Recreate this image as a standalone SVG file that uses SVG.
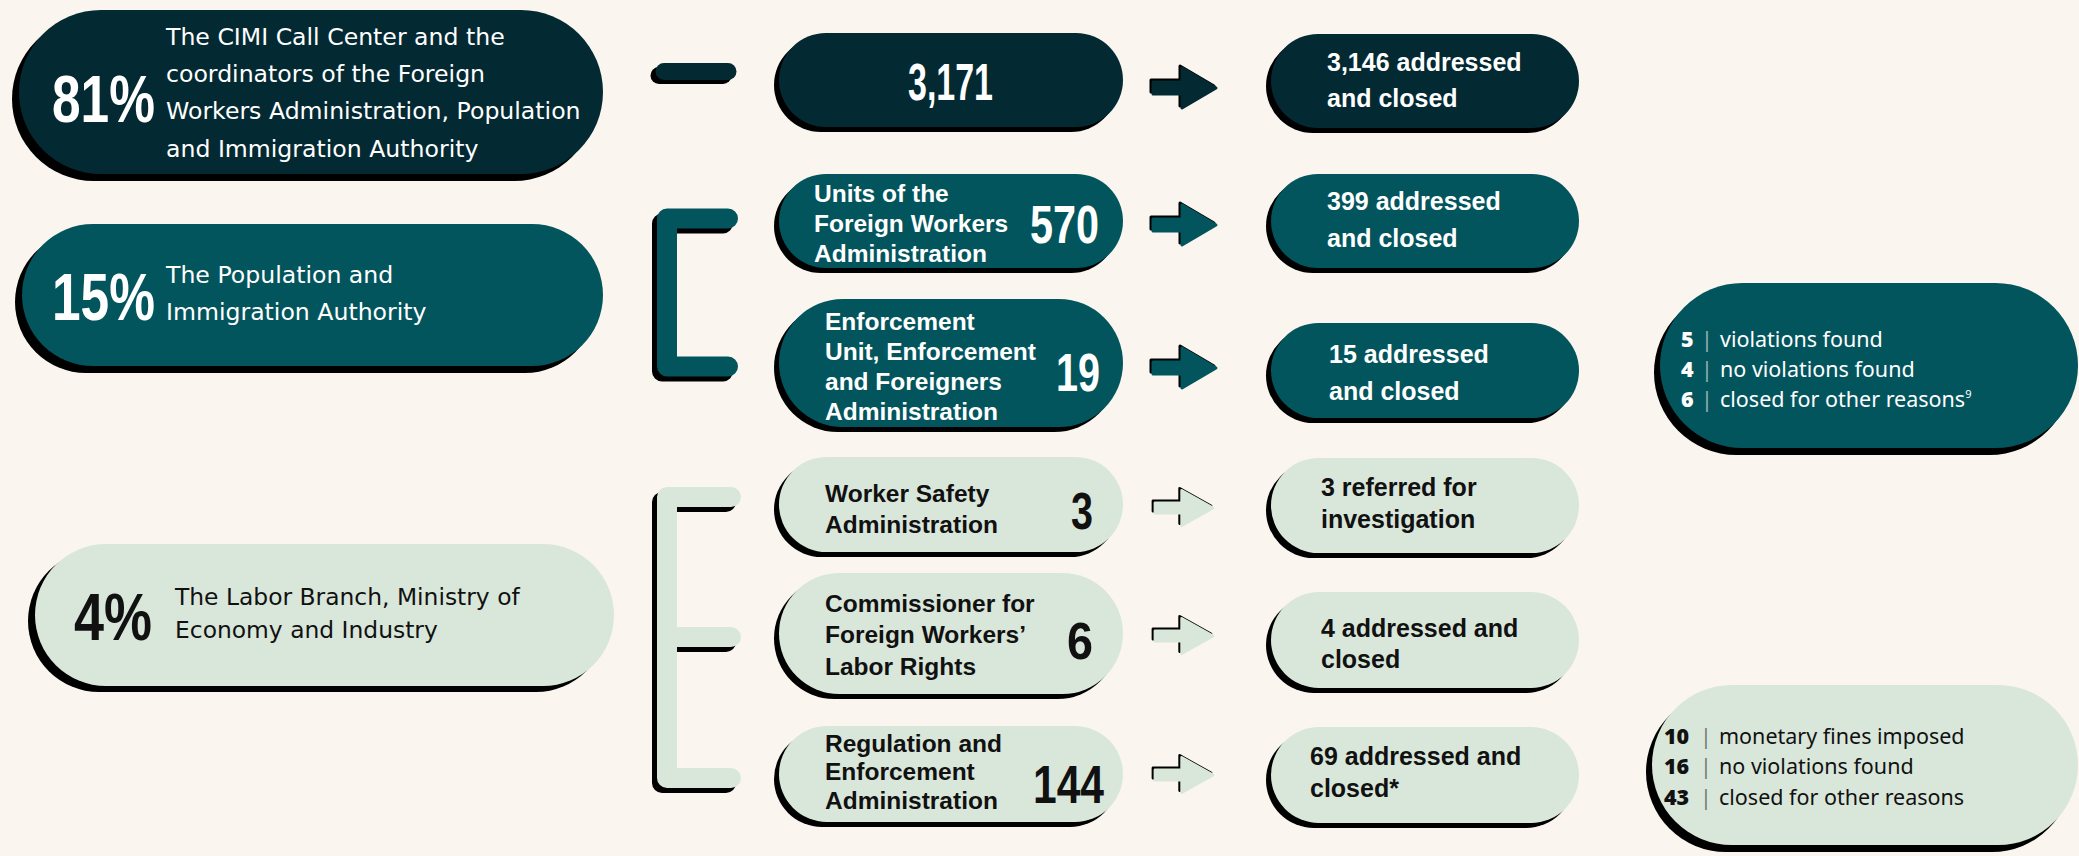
<svg xmlns="http://www.w3.org/2000/svg" xmlns:xlink="http://www.w3.org/1999/xlink" width="2079" height="856" viewBox="0 0 2079 856">
<style>
.navy{fill:#032a33}
.teal{fill:#03555d}
.light{fill:#d9e7db}
.sh{fill:#000}
.s-navy{fill:none;stroke:#032a33;stroke-linecap:round;stroke-linejoin:round}
.s-teal{fill:none;stroke:#03555d;stroke-linecap:round;stroke-linejoin:round}
.s-light{fill:none;stroke:#d9e7db;stroke-linecap:round;stroke-linejoin:round}
.s-sh{fill:none;stroke:#000;stroke-linecap:round;stroke-linejoin:round}
.a-navy{fill:#032a33;stroke:#032a33;stroke-width:3;stroke-linejoin:round}
.a-teal{fill:#03555d;stroke:#03555d;stroke-width:3;stroke-linejoin:round}
.a-light{fill:#d9e7db;stroke:#d9e7db;stroke-width:3;stroke-linejoin:round}
.a-sh{fill:#000;stroke:#000;stroke-width:3;stroke-linejoin:round}
.pct{font-family:"Liberation Sans",Arial,sans-serif;font-weight:700;font-size:66px}
.desc{font-family:"DejaVu Sans",sans-serif;font-size:23.6px}
.lbl{font-family:"Liberation Sans",Arial,sans-serif;font-weight:700;font-size:24.5px}
.big{font-family:"Liberation Sans",Arial,sans-serif;font-weight:700;font-size:54px}
.res{font-family:"Liberation Sans",Arial,sans-serif;font-weight:700;font-size:25px}
.det{font-family:"Noto Sans",sans-serif;font-size:21.5px}
.num{font-weight:900}
.bar{fill-opacity:0.55}
.w{fill:#ffffff}
.k{fill:#111111}
</style>
<defs>
<path id="arw" d="M0,-6 H29 V-20 L63,0 L29,20 V6 H0 Z"/>
</defs>
<rect width="2079" height="856" fill="#faf6ef"/>

<g id="connectors">
  <g id="dash">
    <path d="M664,71.5 H728" class="s-sh" stroke-width="17" transform="translate(-5,4)"/>
    <path d="M664,71.5 H728" class="s-navy" stroke-width="17"/>
  </g>
  <g id="bracket-pia">
    <path d="M728,218.5 H667 V366.5 H728" class="s-sh" stroke-width="20" transform="translate(-5,5)"/>
    <path d="M728,218.5 H667 V366.5 H728" class="s-teal" stroke-width="20"/>
  </g>
  <g id="bracket-labor">
    <path d="M731,497 H667 V778 H731 M667,637 H731" class="s-sh" stroke-width="20" transform="translate(-5,5)"/>
    <path d="M731,497 H667 V778 H731 M667,637 H731" class="s-light" stroke-width="20"/>
  </g>
  <g id="arrow-1">
    <use xlink:href="#arw" class="a-sh" transform="translate(1151,86)"/>
    <use xlink:href="#arw" class="a-navy" transform="translate(1153,88)"/>
  </g>
  <g id="arrow-2">
    <use xlink:href="#arw" class="a-sh" transform="translate(1151,223)"/>
    <use xlink:href="#arw" class="a-teal" transform="translate(1153,225)"/>
  </g>
  <g id="arrow-3">
    <use xlink:href="#arw" class="a-sh" transform="translate(1151,366)"/>
    <use xlink:href="#arw" class="a-teal" transform="translate(1153,368)"/>
  </g>
  <g id="arrow-4">
    <use xlink:href="#arw" class="a-sh" transform="translate(1153,506) scale(0.92,0.88)"/>
    <use xlink:href="#arw" class="a-light" transform="translate(1155,508) scale(0.92,0.88)"/>
  </g>
  <g id="arrow-5">
    <use xlink:href="#arw" class="a-sh" transform="translate(1153,634) scale(0.92,0.88)"/>
    <use xlink:href="#arw" class="a-light" transform="translate(1155,636) scale(0.92,0.88)"/>
  </g>
  <g id="arrow-6">
    <use xlink:href="#arw" class="a-sh" transform="translate(1153,773) scale(0.92,0.88)"/>
    <use xlink:href="#arw" class="a-light" transform="translate(1155,775) scale(0.92,0.88)"/>
  </g>
</g>

<g id="node-81">
  <rect x="12" y="17" width="584" height="164" rx="82" class="sh"/>
  <rect x="19" y="10" width="584" height="164" rx="82" class="navy"/>
  <text x="52" y="122" class="pct w" textLength="103" lengthAdjust="spacingAndGlyphs">81%</text>
  <text class="desc w">
    <tspan x="166" y="45">The CIMI Call Center and the</tspan>
    <tspan x="166" y="82">coordinators of the Foreign</tspan>
    <tspan x="166" y="119">Workers Administration, Population</tspan>
    <tspan x="166" y="157">and Immigration Authority</tspan>
  </text>
</g>

<g id="node-15">
  <rect x="15" y="231" width="581" height="142" rx="71" class="sh"/>
  <rect x="22" y="224" width="581" height="142" rx="71" class="teal"/>
  <text x="52" y="320" class="pct w" textLength="103" lengthAdjust="spacingAndGlyphs">15%</text>
  <text class="desc w">
    <tspan x="166" y="283">The Population and</tspan>
    <tspan x="166" y="320">Immigration Authority</tspan>
  </text>
</g>

<g id="node-4">
  <rect x="28" y="550" width="579" height="142" rx="71" class="sh"/>
  <rect x="35" y="544" width="579" height="142" rx="71" class="light"/>
  <text x="74" y="640" class="pct k" textLength="78" lengthAdjust="spacingAndGlyphs">4%</text>
  <text class="desc k" style="font-size:23.4px">
    <tspan x="175" y="605">The Labor Branch, Ministry of</tspan>
    <tspan x="175" y="638">Economy and Industry</tspan>
  </text>
</g>

<g id="node-3171">
  <rect x="774" y="38" width="344" height="94" rx="47" class="sh"/>
  <rect x="779" y="33" width="344" height="94" rx="47" class="navy"/>
  <text x="908" y="100" class="big w" style="font-size:52px" textLength="85" lengthAdjust="spacingAndGlyphs">3,171</text>
</g>

<g id="node-570">
  <rect x="774" y="179" width="344" height="94" rx="47" class="sh"/>
  <rect x="779" y="174" width="344" height="94" rx="47" class="teal"/>
  <text class="lbl w">
    <tspan x="814" y="202">Units of the</tspan>
    <tspan x="814" y="232">Foreign Workers</tspan>
    <tspan x="814" y="262">Administration</tspan>
  </text>
  <text x="1030" y="243" class="big w" textLength="69" lengthAdjust="spacingAndGlyphs">570</text>
</g>

<g id="node-19">
  <rect x="774" y="304" width="344" height="128" rx="64" class="sh"/>
  <rect x="779" y="299" width="344" height="128" rx="64" class="teal"/>
  <text class="lbl w">
    <tspan x="825" y="330">Enforcement</tspan>
    <tspan x="825" y="360">Unit, Enforcement</tspan>
    <tspan x="825" y="390">and Foreigners</tspan>
    <tspan x="825" y="420">Administration</tspan>
  </text>
  <text x="1056" y="391" class="big w" textLength="44" lengthAdjust="spacingAndGlyphs">19</text>
</g>

<g id="node-3">
  <rect x="774" y="462" width="344" height="95" rx="47.5" class="sh"/>
  <rect x="779" y="457" width="344" height="95" rx="47.5" class="light"/>
  <text class="lbl k">
    <tspan x="825" y="502">Worker Safety</tspan>
    <tspan x="825" y="533">Administration</tspan>
  </text>
  <text x="1071" y="529" class="big k" style="font-size:51px" textLength="22" lengthAdjust="spacingAndGlyphs">3</text>
</g>

<g id="node-6">
  <rect x="774" y="578" width="344" height="121" rx="60.5" class="sh"/>
  <rect x="779" y="573" width="344" height="121" rx="60.5" class="light"/>
  <text class="lbl k">
    <tspan x="825" y="612">Commissioner for</tspan>
    <tspan x="825" y="643">Foreign Workers’</tspan>
    <tspan x="825" y="675">Labor Rights</tspan>
  </text>
  <text x="1067" y="659" class="big k" style="font-size:51px" textLength="26" lengthAdjust="spacingAndGlyphs">6</text>
</g>

<g id="node-144">
  <rect x="774" y="731" width="344" height="96" rx="48" class="sh"/>
  <rect x="779" y="726" width="344" height="96" rx="48" class="light"/>
  <text class="lbl k">
    <tspan x="825" y="752">Regulation and</tspan>
    <tspan x="825" y="780">Enforcement</tspan>
    <tspan x="825" y="809">Administration</tspan>
  </text>
  <text x="1033" y="803" class="big k" textLength="71" lengthAdjust="spacingAndGlyphs">144</text>
</g>

<g id="node-3146">
  <rect x="1266" y="39" width="308" height="94" rx="47" class="sh"/>
  <rect x="1271" y="34" width="308" height="94" rx="47" class="navy"/>
  <text class="res w">
    <tspan x="1327" y="71">3,146 addressed</tspan>
    <tspan x="1327" y="107">and closed</tspan>
  </text>
</g>

<g id="node-399">
  <rect x="1266" y="179" width="308" height="94" rx="47" class="sh"/>
  <rect x="1271" y="174" width="308" height="94" rx="47" class="teal"/>
  <text class="res w">
    <tspan x="1327" y="210">399 addressed</tspan>
    <tspan x="1327" y="247">and closed</tspan>
  </text>
</g>

<g id="node-15-closed">
  <rect x="1266" y="328" width="308" height="95" rx="47.5" class="sh"/>
  <rect x="1271" y="323" width="308" height="95" rx="47.5" class="teal"/>
  <text class="res w">
    <tspan x="1329" y="363">15 addressed</tspan>
    <tspan x="1329" y="400">and closed</tspan>
  </text>
</g>

<g id="node-3-referred">
  <rect x="1266" y="463" width="308" height="95" rx="47.5" class="sh"/>
  <rect x="1271" y="458" width="308" height="95" rx="47.5" class="light"/>
  <text class="res k">
    <tspan x="1321" y="496">3 referred for</tspan>
    <tspan x="1321" y="528">investigation</tspan>
  </text>
</g>

<g id="node-4-closed">
  <rect x="1266" y="597" width="308" height="96" rx="48" class="sh"/>
  <rect x="1271" y="592" width="308" height="96" rx="48" class="light"/>
  <text class="res k">
    <tspan x="1321" y="637">4 addressed and</tspan>
    <tspan x="1321" y="668">closed</tspan>
  </text>
</g>

<g id="node-69-closed">
  <rect x="1266" y="732" width="308" height="96" rx="48" class="sh"/>
  <rect x="1271" y="727" width="308" height="96" rx="48" class="light"/>
  <text class="res k">
    <tspan x="1310" y="765">69 addressed and</tspan>
    <tspan x="1310" y="797">closed*</tspan>
  </text>
</g>

<g id="node-enf-detail">
  <rect x="1654" y="290" width="418" height="165" rx="82.5" class="sh"/>
  <rect x="1660" y="283" width="418" height="165" rx="82.5" class="teal"/>
  <text class="det w">
    <tspan x="1681" y="347" class="num">5</tspan><tspan x="1701" y="347" class="bar">|</tspan><tspan x="1720" y="347">violations found</tspan>
    <tspan x="1681" y="377" class="num">4</tspan><tspan x="1701" y="377" class="bar">|</tspan><tspan x="1720" y="377">no violations found</tspan>
    <tspan x="1681" y="407" class="num">6</tspan><tspan x="1701" y="407" class="bar">|</tspan><tspan x="1720" y="407">closed for other reasons</tspan><tspan dy="-9" style="font-size:11px">9</tspan>
  </text>
</g>

<g id="node-reg-detail">
  <rect x="1646" y="692" width="426" height="160" rx="80" class="sh"/>
  <rect x="1652" y="685" width="426" height="160" rx="80" class="light"/>
  <text class="det k">
    <tspan x="1664" y="744" class="num">10</tspan><tspan x="1700" y="744" class="bar">|</tspan><tspan x="1719" y="744">monetary fines imposed</tspan>
    <tspan x="1664" y="774" class="num">16</tspan><tspan x="1700" y="774" class="bar">|</tspan><tspan x="1719" y="774">no violations found</tspan>
    <tspan x="1664" y="805" class="num">43</tspan><tspan x="1700" y="805" class="bar">|</tspan><tspan x="1719" y="805">closed for other reasons</tspan>
  </text>
</g>
</svg>
